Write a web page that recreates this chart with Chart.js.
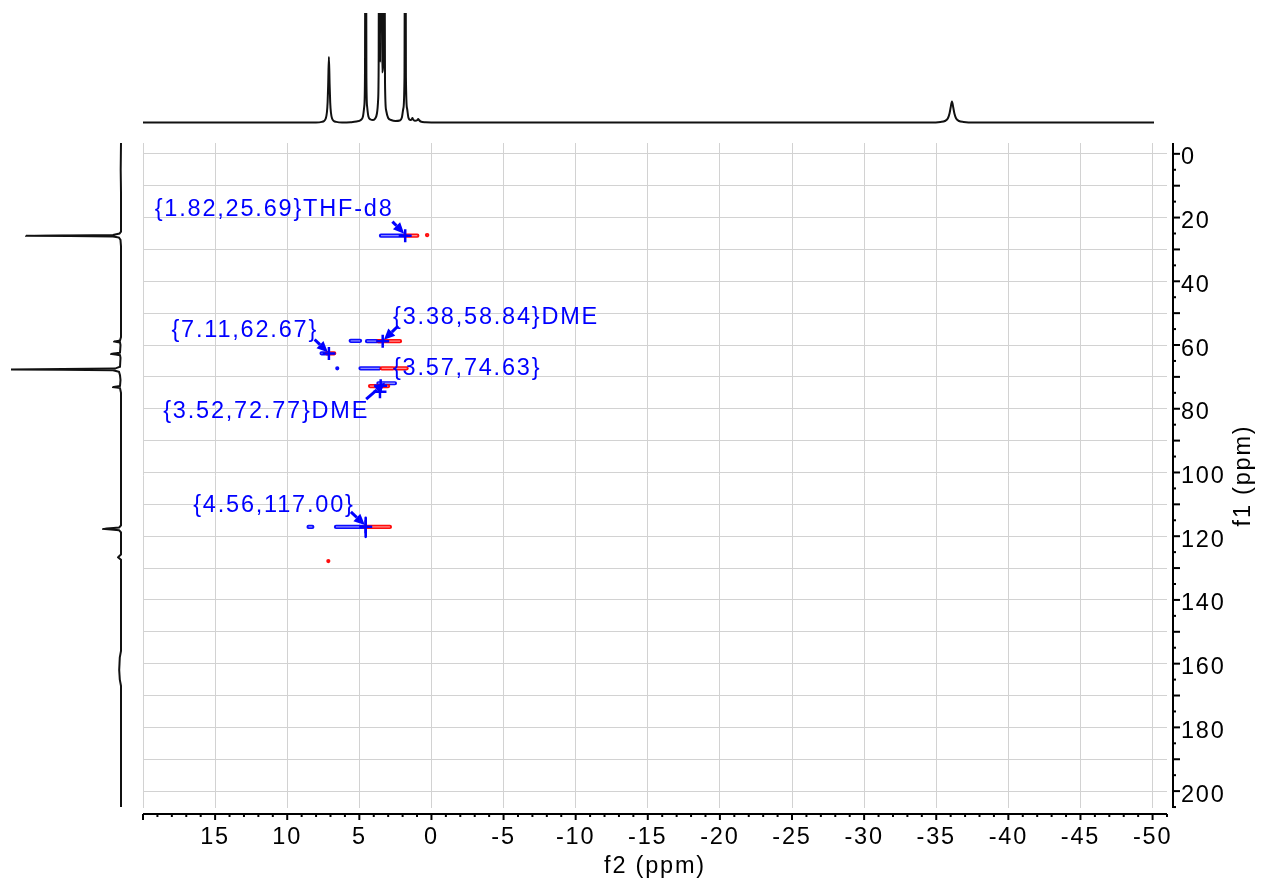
<!DOCTYPE html>
<html>
<head>
<meta charset="utf-8">
<title>HSQC f2/f1</title>
<script src="https://cdn.jsdelivr.net/npm/chart.js@4.4.1/dist/chart.umd.min.js"></script>
<style>
  html, body { margin: 0; padding: 0; background: #fff; }
  #wrap { position: relative; width: 1262px; height: 884px; overflow: hidden; }
  #wrap canvas { position: absolute; left: 0; top: 0; }
</style>
</head>
<body>
<div id="wrap">
  <canvas id="main" width="1262" height="884"></canvas>
  <canvas id="top" width="1262" height="140"></canvas>
  <canvas id="side" width="140" height="884"></canvas>
</div>
<script>
// ---------- axis labels ----------
const xTickLabels = [15, 10, 5, 0, -5, -10, -15, -20, -25, -30, -35, -40, -45, -50];
const yTickLabels = [0, 20, 40, 60, 80, 100, 120, 140, 160, 180, 200];

// ---------- assigned cross peaks (f2 = 1H, f1 = 13C, ppm) ----------
const peakH = [1.82, 3.38, 7.11, 3.57, 3.52, 4.56];
const peakC = [25.69, 58.84, 62.67, 74.63, 72.77, 117.00];
const peakTags = ['THF-d8', 'DME', '', '', 'DME', ''];

// ---------- contour pieces: [f2 from, f2 to, f1] ----------
const blueContours = [
  [3.50, 1.90, 25.7],
  [5.60, 4.95, 58.7],
  [4.47, 3.48, 58.8],
  [7.62, 7.15, 62.6],
  [6.53, 6.52, 67.3],
  [4.92, 3.60, 67.3],
  [3.68, 2.53, 72.0],
  [8.52, 8.26, 117.1],
  [6.62, 4.60, 117.1]
];
const redContours = [
  [1.84, 0.98, 25.7],
  [0.31, 0.29, 25.5],
  [3.68, 2.18, 58.8],
  [7.26, 6.74, 62.6],
  [3.45, 2.66, 67.3],
  [2.52, 1.72, 67.3],
  [4.26, 3.00, 72.9],
  [4.61, 2.88, 117.1],
  [7.15, 7.13, 127.8]
];
// vertical contour pieces: [f2, f1 from, f1 to]
const blueContoursV = [
  [4.56, 114.2, 120.2]
];

// ---------- 1H projection: [ppm, intensity] ----------
const topTrace = [
  [20.0, 0], [8.0, 0], [7.6, 0.6], [7.45, 1.5], [7.33, 4], [7.25, 10], [7.2, 20], [7.16, 38], [7.11, 65.5],
  [7.06, 38], [7.02, 20], [6.97, 10], [6.89, 4], [6.77, 1.5], [6.6, 0.6], [6.2, 0], [5.6, 0.3],
  [5.2, 1], [4.9, 2.5], [4.75, 6], [4.66, 16], [4.61, 45], [4.56, 420], [4.51, 45], [4.46, 16], [4.37, 6], [4.22, 3], [4.05, 2.5],
  [3.9, 4], [3.78, 9], [3.7, 22], [3.66, 60], [3.62, 380], [3.56, 60], [3.49, 360], [3.43, 50], [3.36, 55], [3.28, 330],
  [3.22, 40], [3.14, 12], [3.0, 4.5], [2.8, 2.5], [2.5, 1.5], [2.2, 2],
  [2.05, 5], [1.95, 14], [1.87, 45], [1.82, 420], [1.77, 45], [1.69, 14], [1.6, 5], [1.45, 2.5], [1.37, 3], [1.32, 4.5],
  [1.27, 3], [1.15, 1.8], [0.97, 2.6], [0.92, 3.6], [0.87, 2.6], [0.75, 1], [0.4, 0.3], [-0.5, 0],
  [-34.6, 0], [-35.3, 0.6], [-35.6, 1.5], [-35.8, 4], [-35.92, 9], [-36.0, 15], [-36.09, 21], [-36.18, 15], [-36.26, 9],
  [-36.38, 4], [-36.58, 1.5], [-36.9, 0.6], [-37.6, 0], [-50.1, 0]
];

// ---------- 13C projection: [ppm, intensity] ----------
const sideTrace = [
  [-3.4, 0], [5, 0.3], [12, 0], [24.4, 0], [25.0, 1.5], [25.45, 8], [25.7, 95], [25.95, 8], [26.3, 2], [27, 0.5], [29, 0],
  [57.5, 0], [58.6, 1], [58.9, 7], [59.2, 1], [60, 0.5], [62.4, 1], [62.8, 10], [63.2, 1], [64, 0.5],
  [66.8, 1], [67.4, 6], [67.65, 110], [67.9, 8], [68.4, 2], [69.5, 1], [71, 0.5], [72.9, 1], [73.2, 8], [73.5, 1], [75, 0],
  [116.6, 0], [117.3, 2], [117.7, 18], [118.1, 2], [118.8, 0],
  [125.8, 0], [126.6, 3], [127.4, 0],
  [156, 0], [158, 1.2], [162, 1.8], [165, 1.2], [167, 0], [205, 0]
];

// ---------- styling ----------
const FONT = '"Liberation Sans", Arial, Helvetica, sans-serif';
const FONT_SIZE = 23.5;
const SPACING = '1.8px';
const GRID = '#d2d2d2';
const BLUE = '#0000ff';
const RED = '#ff0000';

// label / arrow offsets in pixels, relative to each peak
const labelPlacement = [
  { text: [-250.5, -19.8], tail: [-12.8, -14.1], tip: [-1.0, -2.0] },
  { text: [10.4, -17.3], tail: [15.4, -15.3], tip: [1.2, -1.5] },
  { text: [-157.5, -16.8], tail: [-14.3, -14.0], tip: [-1.0, -1.2] },
  { text: [13.0, -17.0], tail: null, tip: null },
  { text: [-217.5, 32.7], tail: [-14.5, 13.4], tip: [4.5, -3.1] },
  { text: [-172.5, -14.7], tail: [-14.8, -14.7], tip: [-0.8, -1.6] }
];

const F2_MIN = -51, F2_MAX = 20;
const F1_MIN = -3.4, F1_MAX = 205.3;

// ---------- helpers building chart data ----------
function hSegments(list) {
  const pts = [];
  list.forEach(([a, b, c]) => { pts.push({ x: a, y: c }, { x: b, y: c }, { x: null, y: null }); });
  return pts;
}
function vSegments(list) {
  const pts = [];
  list.forEach(([h, c1, c2]) => { pts.push({ x: h, y: c1 }, { x: h, y: c2 }, { x: null, y: null }); });
  return pts;
}
// a contour piece drawn as a ring: dark outline plus a pale core
function contourRing(points, outer, inner, width) {
  return [
    { data: points, showLine: true, spanGaps: false, borderColor: inner, borderWidth: width * 0.3,
      borderCapStyle: 'butt', pointRadius: 0 },
    { data: points, showLine: true, spanGaps: false, borderColor: outer, borderWidth: width,
      borderCapStyle: 'round', pointRadius: 0 }
  ];
}
const quiet = { legend: { display: false }, tooltip: { enabled: false } };

function drawArrow(ctx, x0, y0, x1, y1) {
  const a = Math.atan2(y1 - y0, x1 - x0);
  const head = 11, half = 5;
  const bx = x1 - head * Math.cos(a), by = y1 - head * Math.sin(a);
  ctx.beginPath(); ctx.moveTo(x0, y0); ctx.lineTo(bx, by); ctx.stroke();
  ctx.beginPath();
  ctx.moveTo(x1, y1);
  ctx.lineTo(bx + half * Math.sin(a), by - half * Math.cos(a));
  ctx.lineTo(bx - half * Math.sin(a), by + half * Math.cos(a));
  ctx.closePath(); ctx.fill();
}

// axis lines, tick marks, axis titles and peak annotations
const frame = {
  id: 'frame',
  afterInit(chart) { chart.ctx.letterSpacing = SPACING; },
  beforeDraw(chart) { chart.ctx.letterSpacing = SPACING; },
  afterDatasetsDraw(chart) {
    const { ctx, scales: { x, y } } = chart;
    ctx.save();
    ctx.font = `${FONT_SIZE}px ${FONT}`;
    ctx.letterSpacing = SPACING;
    ctx.fillStyle = BLUE;
    ctx.strokeStyle = BLUE;
    ctx.lineWidth = 3;
    ctx.textAlign = 'left';
    ctx.textBaseline = 'alphabetic';
    peakH.forEach((h, i) => {
      const px = x.getPixelForValue(h), py = y.getPixelForValue(peakC[i]);
      const p = labelPlacement[i];
      const label = `{${h.toFixed(2)},${peakC[i].toFixed(2)}}${peakTags[i]}`;
      ctx.fillText(label, px + p.text[0], py + p.text[1]);
      if (p.tail) drawArrow(ctx, px + p.tail[0], py + p.tail[1], px + p.tip[0], py + p.tip[1]);
    });
    ctx.restore();
  },
  afterDraw(chart) {
    const { ctx, chartArea: ca, scales: { x, y } } = chart;
    ctx.save();
    ctx.strokeStyle = '#000';
    ctx.fillStyle = '#000';
    ctx.lineWidth = 2;
    // bottom f2 axis
    const axY = ca.bottom + 6;
    ctx.beginPath();
    ctx.moveTo(x.getPixelForValue(F2_MAX), axY);
    ctx.lineTo(x.getPixelForValue(F2_MIN), axY);
    ctx.stroke();
    for (let v = F2_MAX; v >= F2_MIN; v--) {
      const px = x.getPixelForValue(v);
      const len = v % 5 === 0 ? 6 : 3;
      ctx.beginPath(); ctx.moveTo(px, axY); ctx.lineTo(px, axY + len); ctx.stroke();
    }
    // right f1 axis
    const axX = ca.right + 6;
    ctx.beginPath();
    ctx.moveTo(axX, ca.top);
    ctx.lineTo(axX, ca.bottom);
    ctx.stroke();
    for (let v = 0; v <= F1_MAX; v += 5) {
      const py = y.getPixelForValue(v);
      const len = v % 10 === 0 ? 7 : 3;
      ctx.beginPath(); ctx.moveTo(axX, py); ctx.lineTo(axX + len, py); ctx.stroke();
    }
    // axis titles
    ctx.font = `${FONT_SIZE}px ${FONT}`;
    ctx.letterSpacing = SPACING;
    ctx.textAlign = 'center';
    ctx.textBaseline = 'alphabetic';
    ctx.fillText('f2 (ppm)', (ca.left + ca.right) / 2, ca.bottom + 65);
    ctx.translate(ca.right + 82.5, (ca.top + ca.bottom) / 2);
    ctx.rotate(-Math.PI / 2);
    ctx.fillText('f1 (ppm)', 0, 0);
    ctx.restore();
  }
};

// ---------- 2D map ----------
new Chart(document.getElementById('main'), {
  type: 'scatter',
  data: {
    datasets: [
      {
        data: peakH.map((h, i) => ({ x: h, y: peakC[i] })),
        pointStyle: 'cross', pointRadius: 6.5, pointBorderWidth: 2.5,
        borderColor: BLUE, backgroundColor: BLUE, showLine: false
      },
      {
        data: vSegments(blueContoursV), showLine: true, spanGaps: false,
        borderColor: BLUE, borderWidth: 2.6, borderCapStyle: 'round', pointRadius: 0
      },
      ...contourRing(hSegments(redContours), 'rgba(255,0,0,0.95)', '#ff8c8c', 4.2),
      ...contourRing(hSegments(blueContours), 'rgba(0,0,255,0.95)', '#8c8cff', 4.2)
    ]
  },
  options: {
    responsive: false,
    animation: false,
    events: [],
    layout: { padding: { left: 143, top: 143, right: 0, bottom: 0 } },
    plugins: quiet,
    scales: {
      x: {
        type: 'linear', position: 'bottom', reverse: true, min: F2_MIN, max: F2_MAX,
        afterBuildTicks(s) {
          const t = [];
          for (let v = F2_MAX; v >= -50; v -= 5) t.push({ value: v });
          s.ticks = t;
        },
        afterFit(s) { s.height = 76; },
        ticks: {
          autoSkip: false, maxRotation: 0, minRotation: 0, padding: 15, color: '#000',
          font: { family: FONT, size: FONT_SIZE },
          callback: v => (xTickLabels.includes(v) ? String(v) : '')
        },
        grid: { color: GRID, lineWidth: 1, drawTicks: false },
        border: { display: false }
      },
      y: {
        type: 'linear', position: 'right', reverse: true, min: F1_MIN, max: F1_MAX,
        afterBuildTicks(s) {
          const t = [];
          for (let v = 0; v <= 200; v += 10) t.push({ value: v });
          s.ticks = t;
        },
        afterFit(s) { s.width = 95; },
        ticks: {
          autoSkip: false, padding: 14, labelOffset: 4, color: '#000',
          font: { family: FONT, size: FONT_SIZE },
          callback: v => (yTickLabels.includes(v) ? String(v) : '')
        },
        grid: { color: GRID, lineWidth: 1, drawTicks: false },
        border: { display: false }
      }
    }
  },
  plugins: [frame]
});

// ---------- 1H projection (top) ----------
new Chart(document.getElementById('top'), {
  type: 'scatter',
  data: {
    datasets: [{
      data: topTrace.map(([p, v]) => ({ x: p, y: v })),
      showLine: true, borderColor: '#111', borderWidth: 2, pointRadius: 0,
      cubicInterpolationMode: 'monotone'
    }]
  },
  options: {
    responsive: false, animation: false, events: [],
    layout: { padding: { left: 143, right: 95, top: 13, bottom: 14 } },
    plugins: quiet,
    scales: {
      x: { display: false, type: 'linear', reverse: true, min: F2_MIN, max: F2_MAX },
      y: { display: false, type: 'linear', min: -3.5, max: 109.5 }
    }
  }
});

// ---------- 13C projection (left) ----------
new Chart(document.getElementById('side'), {
  type: 'scatter',
  data: {
    datasets: [{
      data: sideTrace.map(([p, v]) => ({ x: v, y: p })),
      showLine: true, borderColor: '#111', borderWidth: 2, pointRadius: 0, tension: 0.001
    }]
  },
  options: {
    responsive: false, animation: false, events: [],
    layout: { padding: { left: 0, right: 16, top: 143, bottom: 76 } },
    plugins: quiet,
    scales: {
      x: { display: false, type: 'linear', reverse: true, min: -3, max: 121 },
      y: { display: false, type: 'linear', reverse: true, min: F1_MIN, max: F1_MAX }
    }
  }
});
</script>
</body>
</html>
